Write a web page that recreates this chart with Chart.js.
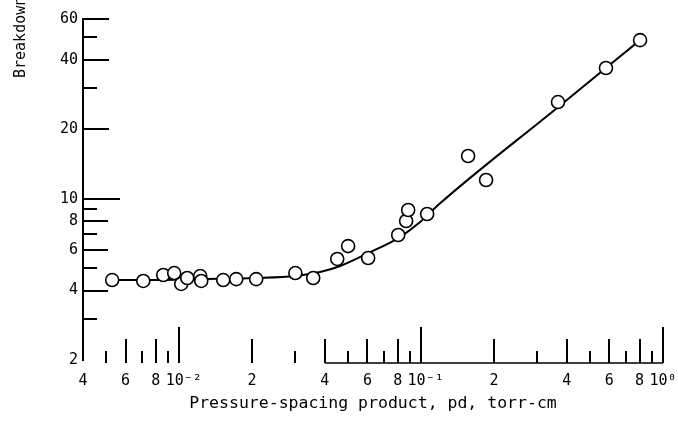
<!DOCTYPE html>
<html><head><meta charset="utf-8">
<script src="https://cdn.jsdelivr.net/npm/chart.js@4/dist/chart.umd.min.js"></script>
<style>html,body{margin:0;padding:0;background:#fff}#wrap{width:678px;height:424px}</style>
</head><body><div id="wrap"><canvas id="c" width="678" height="424"></canvas></div>
<script>
// Measured data: pressure-spacing product (torr-cm) vs breakdown
const pdValues = [0.00528,0.00710,0.00859,0.00953,0.01019,0.01079,0.01221,0.01233,0.0152,0.0172,0.0208,0.0302,0.0358,0.0450,0.0499,0.0604,0.0804,0.0867,0.0884,0.1059,0.1564,0.1856,0.368,0.581,0.804];
const breakdownValues = [4.44,4.40,4.67,4.76,4.27,4.53,4.62,4.40,4.44,4.48,4.48,4.76,4.53,5.48,6.23,5.53,6.96,8.00,8.93,8.58,15.3,12.04,26.2,36.8,48.6];
// Faired curve
const fitPd = [0.00528,0.00759,0.0122,0.0208,0.0302,0.0382,0.0463,0.0604,0.0804,0.0991,0.1175,0.368,0.804];
const fitBreakdown = [4.44,4.44,4.48,4.53,4.62,4.81,5.11,5.81,6.75,7.92,9.38,24.9,48.6];
// Axis tick labels
const xTickValues = [0.004,0.006,0.008,0.01,0.02,0.04,0.06,0.08,0.1,0.2,0.4,0.6,0.8,1];
const xTickLabels = ['4','6','8',' 10\u207B\u00B2','2','4','6','8',' 10\u207B\u00B9','2','4','6','8','10\u2070'];
const yTickValues = [2,4,6,8,10,20,40,60];
const yTickLabels = ['2','4','6','8','10','20','40','60'];
// Tick mark values
const xMarkValues = [0.005,0.006,0.007,0.008,0.009,0.01,0.02,0.03,0.04,0.05,0.06,0.07,0.08,0.09,0.1,0.2,0.3,0.4,0.5,0.6,0.7,0.8,0.9,1];
const yMarkValues = [3,4,5,6,7,8,9,10,20,30,40,50,60];
const xBaselineFrom = 0.04;
const xTitle = 'Pressure-spacing product, pd, torr-cm';
const yTitle = 'Breakdown voltage, V';

const FONT = "'DejaVu Sans Mono', monospace";
function mant(v){ return Math.round(v / Math.pow(10, Math.floor(Math.log10(v) + 1e-9))); }

const inwardTicks = {
  id: 'inwardTicks',
  beforeDatasetsDraw(chart) {
    const {ctx, chartArea, scales} = chart;
    const xs = scales.x, ys = scales.y;
    ctx.save();
    ctx.strokeStyle = '#000';
    ctx.lineWidth = 2;
    yMarkValues.forEach(v => {
      const m = mant(v);
      let len = 14;
      if (v === 10) len = 37;
      else if (v > 10 && m % 2 === 0) len = 26;
      else if (m % 2 === 0) len = 25;
      const py = Math.round(ys.getPixelForValue(v));
      ctx.beginPath(); ctx.moveTo(chartArea.left - 1, py); ctx.lineTo(chartArea.left + len, py); ctx.stroke();
    });
    const base = chartArea.bottom + 3;
    xMarkValues.forEach(v => {
      const m = mant(v);
      const len = m === 1 ? 36 : (m % 2 === 0 ? 24 : 12);
      const px = Math.round(xs.getPixelForValue(v));
      ctx.beginPath(); ctx.moveTo(px, base); ctx.lineTo(px, base - len); ctx.stroke();
    });
    ctx.lineWidth = 1.5;
    ctx.beginPath(); ctx.moveTo(xs.getPixelForValue(xBaselineFrom), base); ctx.lineTo(chartArea.right, base); ctx.stroke();
    ctx.restore();
  },
  afterDraw(chart) {
    const ctx = chart.ctx;
    ctx.save();
    ctx.font = '15px ' + FONT;
    ctx.fillStyle = '#000';
    ctx.translate(25, 78);
    ctx.rotate(-Math.PI / 2);
    ctx.textAlign = 'left';
    ctx.textBaseline = 'alphabetic';
    ctx.fillText(yTitle, 0, 0);
    ctx.restore();
  }
};

const points = pdValues.map((x, i) => ({x, y: breakdownValues[i]}));
const fit = fitPd.map((x, i) => ({x, y: fitBreakdown[i]}));

new Chart(document.getElementById('c'), {
  type: 'scatter',
  data: {
    datasets: [
      { data: points, showLine: false, pointStyle: 'circle', pointRadius: 6.5, pointBorderWidth: 1.6,
        borderColor: '#000', backgroundColor: '#fff', pointBackgroundColor: '#fff', pointBorderColor: '#000', order: 0 },
      { data: fit, showLine: true, pointRadius: 0, borderColor: '#000', borderWidth: 2,
        cubicInterpolationMode: 'monotone', fill: false, order: 1 }
    ]
  },
  options: {
    responsive: false, animation: false, devicePixelRatio: 1,
    layout: { padding: { left: 43, right: 15, top: 19, bottom: 0 } },
    plugins: { legend: { display: false }, tooltip: { enabled: false } },
    scales: {
      x: {
        type: 'logarithmic', min: 0.004, max: 1,
        afterBuildTicks: s => { s.ticks = xTickValues.map(v => ({value: v})); },
        afterFit: s => { s.height = 64; s.paddingRight = 0; s.paddingLeft = 0; },
        grid: { display: true, drawOnChartArea: false, drawTicks: false },
        border: { display: false },
        ticks: { autoSkip: false, maxRotation: 0, padding: 12, color: '#000', font: { family: FONT, size: 15 },
          callback: (v, i) => xTickLabels[i] },
        title: { display: true, text: xTitle, color: '#000', font: { family: FONT, size: 16.5 }, padding: { top: 0, bottom: 10 } }
      },
      y: {
        type: 'logarithmic', min: 2, max: 60,
        afterBuildTicks: s => { s.ticks = yTickValues.map(v => ({value: v})); },
        afterFit: s => { s.width = 40; },
        grid: { display: true, drawOnChartArea: false, drawTicks: false },
        border: { display: true, color: '#000', width: 2 },
        ticks: { autoSkip: false, padding: 5, color: '#000', font: { family: FONT, size: 15 },
          callback: (v, i) => yTickLabels[i] }
      }
    }
  },
  plugins: [inwardTicks]
});
</script></body></html>
